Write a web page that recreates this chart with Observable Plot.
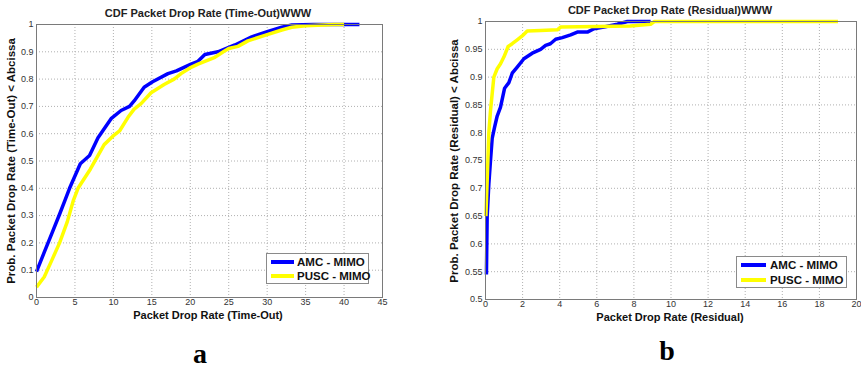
<!DOCTYPE html>
<html>
<head>
<meta charset="utf-8">
<script src="https://cdn.jsdelivr.net/npm/d3@7"></script>
<script src="https://cdn.jsdelivr.net/npm/@observablehq/plot@0.6"></script>
<style>
  html, body { margin: 0; padding: 0; background: #fff; }
  #wrap { position: relative; width: 861px; height: 368px; overflow: hidden; font-family: "Liberation Sans", Arial, sans-serif; }
  .abs { position: absolute; white-space: nowrap; line-height: 1; }
  .ttl { font-weight: bold; font-size: 11px; color: #222; transform: translate(-50%, -50%); }
  .xl { font-weight: bold; font-size: 11px; color: #111; transform: translate(-50%, -50%); }
  .yl { font-weight: bold; font-size: 11.5px; color: #111; transform: translate(-50%, -50%) rotate(-90deg); }
  .let { font-family: "Liberation Serif", "Times New Roman", serif; font-weight: bold; font-size: 28px; color: #000; transform: translate(-50%, -50%); }
  .leg { background: #fff; border: 1px solid #8a8a8a; box-sizing: border-box; }
  .row { position: absolute; left: 0; height: 14px; }
  .sw { position: absolute; height: 4px; top: 5px; }
  .lt { position: absolute; font-weight: bold; font-size: 11.5px; top: 0; line-height: 14px; color: #111; }
  .plot { position: absolute; top: 0; }
</style>
</head>
<body>
<div id="wrap"></div>
<script>
// ---- Data ----
const seriesNames = ["AMC - MIMO", "PUSC - MIMO"];
const seriesColors = ["#0000ff", "#ffff00"];

// Panel a: CDF Packet Drop Rate (Time-Out)
const amcTimeoutX = [0, 1, 2, 3, 3.7, 4.3, 5, 5.7, 6.9, 8, 9.7, 11, 12.1, 12.7, 14, 15.1, 17.1, 18.2, 20.1, 21, 21.9, 23.6, 25.8, 28, 30.1, 31.9, 33.2, 36, 40, 42];
const amcTimeoutY = [0.095, 0.165, 0.235, 0.305, 0.356, 0.40, 0.445, 0.49, 0.52, 0.585, 0.655, 0.685, 0.70, 0.72, 0.77, 0.79, 0.82, 0.83, 0.855, 0.865, 0.89, 0.90, 0.925, 0.955, 0.975, 0.99, 0.998, 1.0, 1.0, 1.0];
const puscTimeoutX = [0, 1, 2, 3, 4, 4.8, 5.4, 7, 8.8, 10.1, 10.8, 11.9, 12.7, 13.6, 14.9, 16.6, 17.9, 18.8, 19.9, 21, 23.2, 24.3, 25, 26.2, 27.5, 29.7, 31.9, 33.2, 35, 38.8, 40];
const puscTimeoutY = [0.038, 0.075, 0.137, 0.20, 0.277, 0.356, 0.40, 0.47, 0.56, 0.595, 0.61, 0.66, 0.69, 0.71, 0.75, 0.78, 0.80, 0.82, 0.84, 0.855, 0.88, 0.90, 0.912, 0.92, 0.94, 0.96, 0.98, 0.99, 0.995, 1.0, 1.0];
const timeoutXTicks = [0, 5, 10, 15, 20, 25, 30, 35, 40, 45];
const timeoutYTicks = [0, 0.1, 0.2, 0.3, 0.4, 0.5, 0.6, 0.7, 0.8, 0.9, 1];

// Panel b: CDF Packet Drop Rate (Residual)
const amcResidualX = [0.05, 0.09, 0.18, 0.27, 0.36, 0.49, 0.63, 0.81, 1.03, 1.26, 1.44, 1.71, 2.07, 2.52, 2.97, 3.24, 3.5, 3.78, 4.14, 4.59, 4.95, 5.49, 5.85, 6.39, 7.1, 7.65, 8.9];
const amcResidualY = [0.545, 0.65, 0.708, 0.75, 0.79, 0.81, 0.83, 0.846, 0.88, 0.89, 0.907, 0.918, 0.933, 0.943, 0.95, 0.957, 0.96, 0.968, 0.971, 0.976, 0.981, 0.981, 0.987, 0.99, 0.995, 1.0, 1.0];
const puscResidualX = [0.02, 0.05, 0.13, 0.18, 0.27, 0.36, 0.45, 0.63, 0.81, 0.99, 1.22, 1.44, 1.71, 1.98, 2.25, 2.97, 3.87, 4.05, 6.03, 7.8, 8.9, 9.1, 19];
const puscResidualY = [0.65, 0.677, 0.75, 0.80, 0.84, 0.87, 0.90, 0.915, 0.924, 0.936, 0.955, 0.96, 0.967, 0.974, 0.983, 0.984, 0.985, 0.99, 0.991, 0.992, 0.995, 1.0, 1.0];
const residualXTicks = [0, 2, 4, 6, 8, 10, 12, 14, 16, 18, 20];
const residualYTicks = [0.5, 0.55, 0.6, 0.65, 0.7, 0.75, 0.8, 0.85, 0.9, 0.95, 1];

// ---- Build ----
const wrap = document.getElementById("wrap");
function toRows(xs, ys, s) { return xs.map((x, i) => ({x, y: ys[i], s})); }

function panel(cfg) {
  const data = [
    ...toRows(cfg.ax, cfg.ay, seriesNames[0]),
    ...toRows(cfg.px, cfg.py, seriesNames[1])
  ];
  const gridStyle = {stroke: "#b0b0b0", strokeOpacity: 1, strokeDasharray: "1,2"};
  const chart = Plot.plot({
    width: cfg.width, height: cfg.height,
    marginLeft: cfg.ml, marginRight: cfg.mr, marginTop: cfg.mt, marginBottom: cfg.mb,
    style: {fontFamily: "Liberation Sans, Arial, sans-serif", fontSize: "9px", color: "#333", background: "transparent"},
    x: {domain: cfg.xd, ticks: cfg.xt, label: null},
    y: {domain: cfg.yd, ticks: cfg.yt, label: null},
    color: {domain: seriesNames, range: seriesColors},
    marks: [
      Plot.gridX(cfg.xt, gridStyle),
      Plot.gridY(cfg.yt, gridStyle),
      Plot.axisX(cfg.xt, {tickSize: 0, tickPadding: cfg.xpad, tickFormat: d => String(d)}),
      Plot.axisY(cfg.yt, {tickSize: 0, tickPadding: 3, tickFormat: d => String(d)}),
      Plot.line(data, {x: "x", y: "y", z: "s", stroke: "s", strokeWidth: 3.5, strokeLinejoin: "round", strokeLinecap: "butt"}),
      Plot.frame({stroke: "#7a7a7a", strokeWidth: 1})
    ]
  });
  chart.classList.add("plot");
  chart.style.left = cfg.left + "px";
  wrap.appendChild(chart);
}

panel({left: 0, width: 400, height: 330, ml: 36, mr: 18, mt: 24, mb: 33, xpad: 1,
  xd: [0, 45], yd: [0, 1], xt: timeoutXTicks, yt: timeoutYTicks,
  ax: amcTimeoutX, ay: amcTimeoutY, px: puscTimeoutX, py: puscTimeoutY});
panel({left: 430, width: 431, height: 330, ml: 55, mr: 5, mt: 21, mb: 31, xpad: 1,
  xd: [0, 20], yd: [0.5, 1], xt: residualXTicks, yt: residualYTicks,
  ax: amcResidualX, ay: amcResidualY, px: puscResidualX, py: puscResidualY});

function text(cls, str, x, y) {
  const d = document.createElement("div");
  d.className = "abs " + cls;
  d.textContent = str;
  d.style.left = x + "px"; d.style.top = y + "px";
  wrap.appendChild(d);
}
text("ttl", "CDF Packet Drop Rate (Time-Out)WWW", 208, 13);
text("ttl", "CDF Packet Drop Rate (Residual)WWW", 670, 10);
text("xl", "Packet Drop Rate (Time-Out)", 208, 315);
text("xl", "Packet Drop Rate (Residual)", 670, 317);
text("yl", "Prob. Packet Drop Rate (Time-Out) < Abcissa", 12, 161);
text("yl", "Prob. Packet Drop Rate (Residual) < Abcissa", 455, 161);
text("let", "a", 200, 354);
text("let", "b", 667, 351);

function legend(x, y, w, h, lineX, lineW, textX, rowYs) {
  const box = document.createElement("div");
  box.className = "abs leg";
  box.style.left = x + "px"; box.style.top = y + "px";
  box.style.width = w + "px"; box.style.height = h + "px";
  seriesNames.forEach((name, i) => {
    const row = document.createElement("div");
    row.className = "row";
    row.style.top = (rowYs[i] - y - 7) + "px";
    row.style.width = w + "px";
    const sw = document.createElement("div");
    sw.className = "sw";
    sw.style.left = (lineX - x) + "px"; sw.style.width = lineW + "px";
    sw.style.background = seriesColors[i];
    const t = document.createElement("div");
    t.className = "lt";
    t.style.left = (textX - x) + "px";
    t.textContent = name;
    row.appendChild(sw); row.appendChild(t);
    box.appendChild(row);
  });
  wrap.appendChild(box);
}
legend(266, 253, 103, 31, 270, 23, 296, [261, 275]);
legend(736, 256, 111, 32, 740, 25, 769, [264, 279]);
</script>
</body>
</html>
